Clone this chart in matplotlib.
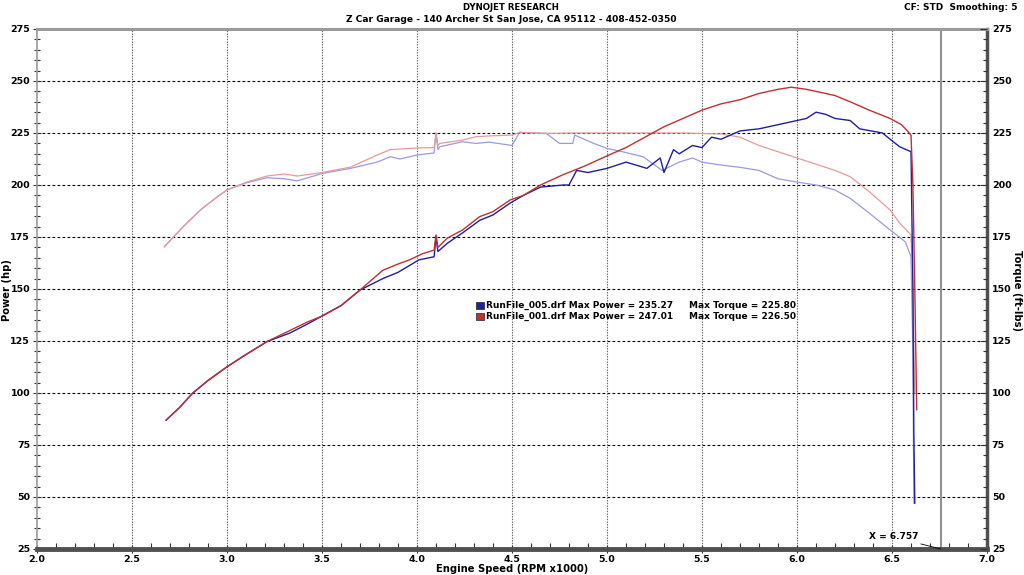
import matplotlib as mpl
mpl.use('Agg')
import matplotlib.pyplot as plt
from matplotlib.ticker import MultipleLocator

mpl.rcParams.update({
    'font.family': 'DejaVu Sans',
    'font.weight': 'bold',
    'font.size': 6,
})

# RunFile_001 (red) power, hp
rpm_p001 = [2.68, 2.75, 2.82, 2.9, 3.0, 3.1, 3.21, 3.33, 3.42, 3.5, 3.6, 3.7, 3.82, 3.9, 3.96,
            4.03, 4.09, 4.10, 4.11, 4.16, 4.24, 4.33, 4.40, 4.49, 4.56, 4.65, 4.77, 4.88, 5.0,
            5.1, 5.24, 5.3, 5.4, 5.5, 5.6, 5.7, 5.8, 5.9, 5.97, 6.05, 6.1, 6.2, 6.28, 6.38,
            6.49, 6.55, 6.585, 6.6, 6.61, 6.62, 6.63]
pow_001 = [87, 93, 100, 106, 112.6, 118.5, 124.7, 130, 134, 137, 142, 149.5, 159, 162, 164,
           167, 168.7, 176, 170, 174.5, 178.4, 184.8, 187.2, 192.8, 195, 200, 205, 209, 214,
           218, 225, 228, 232, 236, 239, 241, 244, 246, 247, 246, 245, 243, 240, 236,
           232, 229, 225.6, 224, 200, 150, 92]

# RunFile_005 (blue) power, hp
rpm_p005 = [2.68, 2.75, 2.82, 2.9, 3.0, 3.1, 3.21, 3.33, 3.42, 3.5, 3.6, 3.7, 3.82, 3.9, 4.01,
            4.09, 4.10, 4.11, 4.16, 4.24, 4.33, 4.40, 4.49, 4.56, 4.65, 4.77, 4.8, 4.84, 4.9,
            5.0, 5.1, 5.21, 5.28, 5.3, 5.35, 5.38, 5.45, 5.5, 5.55, 5.6, 5.7, 5.8, 5.9, 6.0,
            6.05, 6.1, 6.15, 6.2, 6.28, 6.33, 6.45, 6.49, 6.54, 6.6, 6.61, 6.615, 6.62]
pow_005 = [87, 93, 100, 106, 112.6, 118.5, 124.7, 128.8, 133, 137, 142, 149.5, 155, 158, 164,
           165.5, 175, 168, 172, 177, 183, 185.6, 191.3, 195, 199, 200, 200, 207, 206,
           208, 211, 208, 213, 206, 217, 215, 219, 218, 223, 222, 226, 227, 229, 231,
           232, 235, 234, 232, 231, 227, 225, 222, 218.4, 216, 150, 80, 47]

# RunFile_001 (red) torque, ft-lbs
rpm_t001 = [2.67, 2.77, 2.86, 2.95, 3.0, 3.1, 3.21, 3.3, 3.37, 3.5, 3.65, 3.79, 3.86, 3.91,
            4.0, 4.09, 4.10, 4.11, 4.12, 4.24, 4.31, 4.38, 4.5, 4.54, 4.68, 4.82, 5.0, 5.19,
            5.4, 5.6, 5.7, 5.8, 5.9, 6.0, 6.1, 6.2, 6.28, 6.38, 6.49, 6.54, 6.6, 6.61, 6.62]
tq_001 = [170.3, 180, 188, 194.4, 197.6, 201.3, 204.3, 205.3, 204.3, 206, 208.6, 214.4, 217, 217.3,
          217.8, 218, 225, 219, 220, 221.6, 223.2, 223.6, 224, 225.3, 224.8, 225, 225, 225,
          225, 224.5, 223, 219, 216, 213, 210, 207, 204, 196.8, 188, 181.7, 176, 150, 100]

# RunFile_005 (blue) torque, ft-lbs
rpm_t005 = [2.67, 2.77, 2.86, 2.95, 3.0, 3.1, 3.21, 3.3, 3.37, 3.5, 3.65, 3.79, 3.86, 3.91,
            4.0, 4.09, 4.10, 4.11, 4.12, 4.24, 4.31, 4.38, 4.5, 4.54, 4.68, 4.75, 4.82, 4.83,
            4.93, 5.0, 5.08, 5.19, 5.29, 5.38, 5.45, 5.5, 5.6, 5.7, 5.8, 5.9, 6.0, 6.1, 6.2,
            6.28, 6.38, 6.49, 6.57, 6.6, 6.61, 6.615]
tq_005 = [170.3, 180, 188, 194.4, 197.6, 201, 203.5, 203, 202, 205.5, 208, 211, 213.6, 212.5,
          214.4, 215.4, 225, 217, 218.4, 220.8, 220, 220.6, 219, 225.3, 224.8, 220, 220, 224,
          220, 217.6, 216, 213.6, 207, 211, 213, 211, 209.6, 208.5, 207, 203, 201.4, 200, 197.6,
          193.6, 186.5, 178.4, 172.7, 165.5, 120, 47]

legend_rows = [
    ('RunFile_005.drf Max Power = 235.27', 'Max Torque = 225.80', '#1f1fa0'),
    ('RunFile_001.drf Max Power = 247.01', 'Max Torque = 226.50', '#c03030'),
]
cursor_x = 6.757

fig = plt.figure(figsize=(10.24, 5.75), dpi=100)
ax = fig.add_axes([37 / 1024, 1 - 549 / 575, 950 / 1024, 520 / 575])

ax.set_xlim(2.0, 7.0)
ax.set_ylim(25, 275)
ax.xaxis.set_major_locator(MultipleLocator(0.5))
ax.xaxis.set_minor_locator(MultipleLocator(0.1))
ax.yaxis.set_major_locator(MultipleLocator(25))
ax.yaxis.set_minor_locator(MultipleLocator(5))
ax.xaxis.set_major_formatter(mpl.ticker.FormatStrFormatter('%.1f'))

# grid
for yv in range(50, 275, 25):
    ax.axhline(yv, color='black', lw=0.8, dashes=(2.5, 2), zorder=1)
for xv in [2.5, 3.0, 3.5, 4.0, 4.5, 5.0, 5.5, 6.0, 6.5]:
    ax.axvline(xv, color='#666666', lw=0.8, dashes=(1.2, 1.2), zorder=1)

ax.axvline(cursor_x, color='#909090', lw=1.5, zorder=2)

ax.plot(rpm_t005, tq_005, color='#9a9ae0', lw=0.9, zorder=3)
ax.plot(rpm_t001, tq_001, color='#e89a9a', lw=0.9, zorder=3)
ax.plot(rpm_p005, pow_005, color='#1f1fa0', lw=1.0, zorder=4)
ax.plot(rpm_p001, pow_001, color='#c03030', lw=1.0, zorder=4)

ax.annotate('X = 6.757', xy=(cursor_x, 25), xytext=(6.637, 30.8),
            ha='right', va='center', fontsize=6.5,
            arrowprops=dict(arrowstyle='-', color='black', lw=0.6, shrinkA=0, shrinkB=0))

# legend block
for i, (left, right, col) in enumerate(legend_rows):
    yy = 0.468 - i * 0.021
    ax.add_patch(mpl.patches.Rectangle((0.4625, yy - 0.006), 0.0075, 0.013,
                                       transform=ax.transAxes, fc=col, ec='#222222',
                                       lw=0.5, zorder=6))
    ax.text(0.4725, yy, left, transform=ax.transAxes, fontsize=6.5, va='center', zorder=6)
    ax.text(0.6865, yy, right, transform=ax.transAxes, fontsize=6.5, va='center', zorder=6)

# frame
ax.spines['left'].set_color('#9a9a9a')
ax.spines['left'].set_linewidth(1.2)
ax.spines['top'].set_color('#9a9a9a')
ax.spines['top'].set_linewidth(2.2)
ax.spines['right'].set_color('#505050')
ax.spines['right'].set_linewidth(2.5)
ax.spines['bottom'].set_color('#505050')
ax.spines['bottom'].set_linewidth(3.5)

ax.tick_params(axis='x', which='major', direction='inout', length=6, width=0.8,
               color='#333333', labelsize=6.8, pad=1.5)
ax.tick_params(axis='x', which='minor', direction='in', length=4, width=0.8, color='#333333')
ax.tick_params(axis='y', which='major', direction='inout', length=6, width=0.8,
               color='#333333', labelsize=6.8, pad=2)
ax.tick_params(axis='y', which='minor', direction='inout', length=4, width=0.8, color='#333333')

ax2 = ax.twinx()
ax2.set_ylim(25, 275)
ax2.yaxis.set_major_locator(MultipleLocator(25))
ax2.yaxis.set_minor_locator(MultipleLocator(5))
ax2.tick_params(axis='y', which='major', direction='in', length=5, width=0.8,
                color='#333333', labelsize=6.8, pad=3.5)
ax2.tick_params(axis='y', which='minor', direction='in', length=3, width=0.8, color='#333333')
for s in ax2.spines.values():
    s.set_visible(False)

fig.text(512 / 1024, 1 - 569 / 575, 'Engine Speed (RPM x1000)', ha='center', va='center',
         fontsize=7.2)
fig.text(7 / 1024, 1 - 290 / 575, 'Power (hp)', ha='center', va='center', rotation=90,
         fontsize=7.2)
fig.text(1017 / 1024, 1 - 290 / 575, 'Torque (ft-lbs)', ha='center', va='center', rotation=270,
         fontsize=7.2)

fig.text(511 / 1024, 1 - 8 / 575, 'DYNOJET RESEARCH', ha='center', va='center', fontsize=6.2)
fig.text(511 / 1024, 1 - 20 / 575, 'Z Car Garage - 140 Archer St San Jose, CA 95112 - 408-452-0350',
         ha='center', va='center', fontsize=6.6)
fig.text(1018 / 1024, 1 - 7 / 575, 'CF: STD  Smoothing: 5', ha='right', va='center', fontsize=6.5)

fig.savefig('out.png', dpi=100)
